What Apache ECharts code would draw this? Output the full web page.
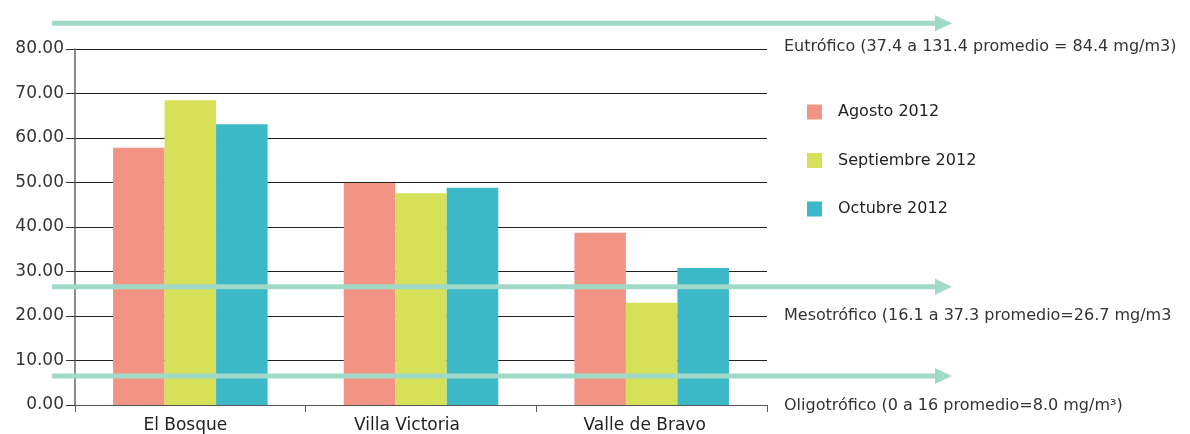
<!DOCTYPE html>
<html>
<head>
<meta charset="utf-8">
<script src="https://cdn.jsdelivr.net/npm/echarts@6/dist/echarts.min.js"></script>
<style>
  html, body { margin: 0; padding: 0; background: #fff; }
  #chart { width: 1190px; height: 434px; }
</style>
</head>
<body>
<div id="chart"></div>
<script>
// Reservoir sites and monthly measurements (mg/m3)
const categories = ['El Bosque', 'Villa Victoria', 'Valle de Bravo'];
const seriesNames = ['Agosto 2012', 'Septiembre 2012', 'Octubre 2012'];
const agosto = [57.8, 49.9, 38.7];
const septiembre = [68.5, 47.6, 23.0];
const octubre = [63.1, 48.8, 30.8];
const yTicks = [0, 10, 20, 30, 40, 50, 60, 70, 80];

// Trophic-state reference arrows (axis level) and their captions
const bandLevels = [85.8, 26.6, 6.5];
const bandCaptions = [
  'Eutrófico (37.4 a 131.4 promedio = 84.4 mg/m3)',
  'Mesotrófico (16.1 a 37.3 promedio=26.7 mg/m3',
  'Oligotrófico (0 a 16 promedio=8.0 mg/m³)'
];

const colors = ['#f29484', '#d6e058', '#3cb9c8'];
const FONT = '"DejaVu Sans", "Open Sans", sans-serif';

// Category labels sit slightly left of their slot centres
const labelShift = [10, 28, 14];

const chart = echarts.init(document.getElementById('chart'), null, { renderer: 'canvas' });

const option = {
  animation: false,
  color: colors,
  grid: { left: 75, right: 423, top: 49, bottom: 29, containLabel: false },
  legend: {
    orient: 'vertical',
    left: 802,
    top: 99,
    itemWidth: 15,
    itemHeight: 15,
    itemGap: 32.5,
    icon: 'rect',
    textStyle: { fontFamily: FONT, fontSize: 16, color: '#222', padding: [0, 0, 0, 11] },
    data: seriesNames
  },
  xAxis: {
    type: 'category',
    data: categories.map((c, i) => ({ value: c, textStyle: { padding: [0, labelShift[i], 0, 0] } })),
    axisLine: { lineStyle: { color: '#555', width: 1 } },
    axisTick: { show: true, length: 7, lineStyle: { color: '#555' } },
    axisLabel: { fontFamily: FONT, fontSize: 17, color: '#222', margin: 12 }
  },
  yAxis: {
    type: 'value',
    min: yTicks[0],
    max: yTicks[yTicks.length - 1],
    interval: 10,
    axisLine: { show: true, lineStyle: { color: '#666', width: 1.5 } },
    axisTick: { show: true, length: 9, lineStyle: { color: '#333' } },
    splitLine: { lineStyle: { color: '#222', width: 1 } },
    axisLabel: {
      fontFamily: FONT, fontSize: 17, color: '#333', margin: 11,
      formatter: v => v.toFixed(2)
    }
  },
  series: [
    { name: seriesNames[0], type: 'bar', data: agosto, barCategoryGap: '33%', barGap: '0%' },
    { name: seriesNames[1], type: 'bar', data: septiembre, barCategoryGap: '33%', barGap: '0%' },
    { name: seriesNames[2], type: 'bar', data: octubre, barCategoryGap: '33%', barGap: '0%' }
  ]
};

chart.setOption(option);

// Arrows spanning the plot at each trophic level, plus captions on the right
const arrowStart = 52, arrowEnd = 952, headLen = 17, headHalf = 8;
const captionY = [47, 316, 406];
const graphics = [];
bandLevels.forEach((lvl, i) => {
  const y = chart.convertToPixel({ yAxisIndex: 0 }, lvl);
  graphics.push({
    type: 'line', z: 10,
    shape: { x1: arrowStart, y1: y, x2: arrowEnd - headLen + 1, y2: y },
    style: { stroke: '#a0d9c8', lineWidth: 5 }
  });
  graphics.push({
    type: 'polygon', z: 10,
    shape: { points: [[arrowEnd - headLen, y - headHalf], [arrowEnd, y], [arrowEnd - headLen, y + headHalf]] },
    style: { fill: '#a0d9c8' }
  });
  graphics.push({
    type: 'text', z: 10, x: 784, y: captionY[i],
    style: {
      text: bandCaptions[i], fill: '#333', font: '16px ' + FONT,
      textVerticalAlign: 'middle', verticalAlign: 'middle'
    }
  });
});
chart.setOption({ graphic: graphics });
</script>
</body>
</html>
